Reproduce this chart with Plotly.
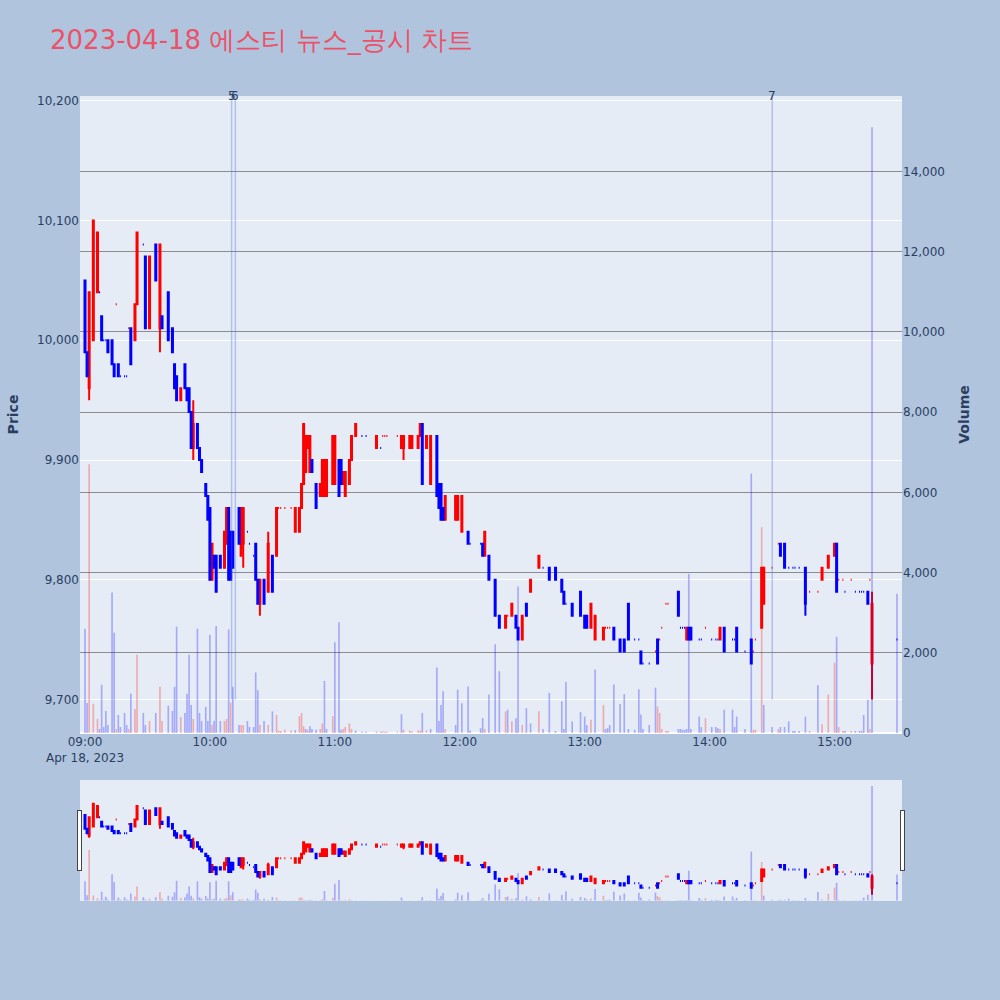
import pandas as pd
import plotly.graph_objects as go
from plotly.subplots import make_subplots

DATE = "2023-04-18"
TITLE = "2023-04-18 에스티 뉴스_공시 차트"

times = [
    "09:00", "09:01", "09:02", "09:04", "09:06", "09:07", "09:08", "09:09", "09:10", "09:11",
    "09:13", "09:14", "09:15", "09:16", "09:17", "09:19", "09:20", "09:21", "09:22", "09:24",
    "09:25", "09:28", "09:29", "09:31", "09:34", "09:36", "09:37", "09:40", "09:42", "09:43",
    "09:44", "09:46", "09:48", "09:49", "09:50", "09:51", "09:52", "09:54", "09:55", "09:56",
    "09:58", "09:59", "10:00", "10:01", "10:02", "10:03", "10:05", "10:07", "10:08", "10:09",
    "10:10", "10:11", "10:14", "10:15", "10:16", "10:18", "10:19", "10:21", "10:22", "10:23",
    "10:24", "10:26", "10:28", "10:30", "10:32", "10:33", "10:34", "10:36", "10:39", "10:41",
    "10:43", "10:44", "10:45", "10:46", "10:47", "10:48", "10:49", "10:51", "10:53", "10:54",
    "10:55", "10:56", "10:59", "11:00", "11:02", "11:03", "11:04", "11:05", "11:07", "11:08",
    "11:10", "11:13", "11:15", "11:20", "11:22", "11:23", "11:24", "11:25", "11:30", "11:32",
    "11:33", "11:36", "11:37", "11:40", "11:41", "11:42", "11:44", "11:46", "11:49", "11:50",
    "11:51", "11:52", "11:53", "11:58", "11:59", "12:01", "12:04", "12:05", "12:10", "12:11",
    "12:12", "12:14", "12:17", "12:19", "12:22", "12:23", "12:25", "12:27", "12:28", "12:30",
    "12:32", "12:34", "12:38", "12:40", "12:43", "12:46", "12:49", "12:50", "12:51", "12:54",
    "12:58", "13:00", "13:01", "13:03", "13:05", "13:09", "13:10", "13:11", "13:12", "13:14",
    "13:17", "13:19", "13:21", "13:24", "13:26", "13:27", "13:28", "13:31", "13:34", "13:35",
    "13:36", "13:37", "13:39", "13:40", "13:45", "13:46", "13:47", "13:48", "13:49", "13:50",
    "13:51", "13:55", "13:56", "13:58", "14:01", "14:03", "14:04", "14:05", "14:07", "14:11",
    "14:12", "14:13", "14:17", "14:20", "14:21", "14:22", "14:25", "14:26", "14:30", "14:33",
    "14:34", "14:36", "14:38", "14:40", "14:41", "14:43", "14:46", "14:48", "14:52", "14:54",
    "14:57", "15:00", "15:01", "15:02", "15:04", "15:05", "15:08", "15:10", "15:12", "15:13",
    "15:14", "15:16", "15:17", "15:18", "15:30",
]

opens = [
    10050, 9990, 9960, 10000, 10040, 10040, 10020, 10000, 10000, 10000,
    10000, 9980, 10030, 9980, 9970, 9970, 9970, 10010, 10010, 10000,
    10030, 10080, 10070, 10010, 10080, 10010, 10020, 10040, 10010, 9980,
    9970, 9950, 9980, 9960, 9960, 9940, 9910, 9930, 9910, 9900,
    9880, 9870, 9860, 9800, 9820, 9820, 9820, 9810, 9830, 9860,
    9840, 9840, 9860, 9820, 9830, 9840, 9830, 9820, 9830, 9800,
    9780, 9800, 9790, 9820, 9820, 9860, 9860, 9860, 9860, 9840,
    9840, 9860, 9880, 9890, 9910, 9890, 9900, 9880, 9870, 9870,
    9870, 9870, 9880, 9880, 9900, 9900, 9880, 9870, 9880, 9900,
    9920, 9920, 9920, 9910, 9910, 9920, 9920, 9920, 9920, 9910,
    9910, 9910, 9910, 9910, 9920, 9930, 9910, 9880, 9920, 9880,
    9880, 9860, 9850, 9850, 9850, 9840, 9840, 9830, 9830, 9830,
    9820, 9820, 9800, 9770, 9760, 9770, 9770, 9770, 9760, 9750,
    9780, 9790, 9810, 9810, 9810, 9810, 9800, 9790, 9780, 9780,
    9790, 9770, 9770, 9760, 9750, 9750, 9760, 9760, 9760, 9760,
    9750, 9750, 9780, 9750, 9750, 9740, 9730, 9730, 9740, 9750,
    9750, 9760, 9780, 9780, 9790, 9760, 9760, 9760, 9750, 9760,
    9760, 9750, 9750, 9760, 9750, 9750, 9750, 9750, 9760, 9750,
    9750, 9760, 9740, 9750, 9740, 9750, 9760, 9780, 9810, 9830,
    9830, 9830, 9810, 9810, 9810, 9810, 9810, 9790, 9790, 9800,
    9810, 9820, 9830, 9800, 9800, 9790, 9800, 9790, 9790, 9790,
    9790, 9790, 9800, 9730, 9750,
]

highs = [
    10050, 9990, 10040, 10100, 10090, 10040, 10020, 10000, 10000, 10000,
    10000, 9980, 10030, 9980, 9970, 9970, 9970, 10010, 10010, 10030,
    10090, 10080, 10070, 10070, 10080, 10080, 10020, 10040, 10010, 9980,
    9970, 9960, 9980, 9960, 9960, 9940, 9950, 9930, 9910, 9900,
    9880, 9870, 9860, 9830, 9820, 9820, 9820, 9840, 9860, 9860,
    9840, 9840, 9860, 9860, 9860, 9840, 9830, 9820, 9830, 9800,
    9800, 9800, 9840, 9820, 9860, 9860, 9860, 9860, 9860, 9860,
    9860, 9880, 9930, 9920, 9920, 9920, 9900, 9880, 9880, 9900,
    9900, 9900, 9920, 9920, 9900, 9900, 9890, 9890, 9900, 9920,
    9930, 9920, 9920, 9920, 9910, 9920, 9920, 9920, 9920, 9920,
    9920, 9920, 9920, 9920, 9930, 9930, 9920, 9920, 9920, 9880,
    9880, 9860, 9870, 9870, 9870, 9870, 9840, 9830, 9830, 9830,
    9840, 9820, 9800, 9770, 9770, 9770, 9780, 9770, 9760, 9770,
    9780, 9800, 9820, 9810, 9810, 9810, 9800, 9790, 9780, 9780,
    9790, 9770, 9770, 9780, 9770, 9760, 9760, 9760, 9760, 9760,
    9750, 9750, 9780, 9750, 9750, 9740, 9730, 9730, 9740, 9750,
    9750, 9760, 9780, 9780, 9790, 9760, 9760, 9760, 9760, 9760,
    9760, 9750, 9750, 9760, 9750, 9750, 9750, 9760, 9760, 9750,
    9750, 9760, 9740, 9750, 9740, 9750, 9810, 9810, 9810, 9830,
    9830, 9830, 9810, 9810, 9810, 9810, 9810, 9790, 9790, 9810,
    9820, 9830, 9830, 9800, 9800, 9790, 9800, 9790, 9790, 9790,
    9790, 9790, 9800, 9790, 9750,
]

lows = [
    9990, 9970, 9950, 10000, 10040, 10040, 10000, 10000, 10000, 9990,
    9980, 9970, 10030, 9970, 9970, 9970, 9970, 10010, 9980, 10000,
    10030, 10080, 10010, 10010, 10050, 9990, 10010, 10000, 9990, 9960,
    9950, 9950, 9960, 9950, 9940, 9910, 9900, 9910, 9900, 9890,
    9870, 9850, 9800, 9800, 9810, 9790, 9810, 9810, 9830, 9800,
    9800, 9810, 9830, 9820, 9810, 9840, 9830, 9820, 9800, 9780,
    9770, 9780, 9790, 9790, 9820, 9860, 9860, 9860, 9860, 9840,
    9840, 9860, 9880, 9890, 9910, 9890, 9890, 9860, 9870, 9870,
    9870, 9870, 9880, 9880, 9870, 9880, 9880, 9870, 9880, 9900,
    9920, 9920, 9920, 9910, 9910, 9920, 9920, 9920, 9920, 9910,
    9900, 9910, 9910, 9910, 9920, 9880, 9910, 9880, 9870, 9860,
    9850, 9850, 9850, 9850, 9850, 9840, 9830, 9830, 9830, 9820,
    9820, 9800, 9770, 9760, 9760, 9770, 9770, 9760, 9750, 9750,
    9770, 9790, 9810, 9810, 9800, 9800, 9790, 9780, 9780, 9770,
    9770, 9760, 9760, 9760, 9750, 9750, 9760, 9760, 9760, 9750,
    9740, 9740, 9750, 9750, 9750, 9730, 9730, 9730, 9740, 9730,
    9750, 9760, 9780, 9780, 9770, 9760, 9760, 9760, 9750, 9750,
    9750, 9750, 9750, 9760, 9750, 9750, 9750, 9750, 9740, 9750,
    9750, 9740, 9740, 9730, 9740, 9750, 9760, 9780, 9810, 9830,
    9820, 9810, 9810, 9810, 9810, 9810, 9770, 9790, 9790, 9800,
    9810, 9820, 9790, 9800, 9800, 9790, 9800, 9790, 9790, 9790,
    9790, 9780, 9800, 9700, 9750,
]

closes = [
    9990, 9970, 10040, 10100, 10090, 10040, 10000, 10000, 10000, 9990,
    9980, 9970, 10030, 9970, 9970, 9970, 9970, 10010, 9980, 10030,
    10090, 10080, 10010, 10070, 10050, 10080, 10010, 10000, 9990, 9960,
    9950, 9960, 9960, 9950, 9940, 9910, 9930, 9910, 9900, 9890,
    9870, 9850, 9800, 9830, 9810, 9790, 9810, 9840, 9860, 9800,
    9800, 9810, 9830, 9860, 9860, 9840, 9830, 9820, 9800, 9780,
    9800, 9780, 9830, 9790, 9860, 9860, 9860, 9860, 9860, 9860,
    9860, 9880, 9930, 9920, 9920, 9920, 9890, 9860, 9880, 9900,
    9900, 9900, 9920, 9920, 9870, 9880, 9890, 9890, 9900, 9920,
    9930, 9920, 9920, 9920, 9910, 9920, 9920, 9920, 9920, 9920,
    9920, 9920, 9920, 9920, 9930, 9880, 9920, 9920, 9870, 9860,
    9850, 9850, 9870, 9870, 9870, 9870, 9830, 9830, 9830, 9820,
    9840, 9800, 9770, 9760, 9770, 9770, 9780, 9760, 9750, 9770,
    9770, 9800, 9820, 9810, 9800, 9800, 9790, 9780, 9780, 9770,
    9770, 9760, 9760, 9780, 9770, 9760, 9760, 9760, 9760, 9750,
    9740, 9740, 9750, 9750, 9750, 9730, 9730, 9730, 9740, 9730,
    9750, 9760, 9780, 9780, 9770, 9760, 9760, 9760, 9760, 9750,
    9750, 9750, 9750, 9760, 9750, 9750, 9750, 9760, 9740, 9750,
    9750, 9740, 9740, 9730, 9740, 9750, 9810, 9810, 9810, 9830,
    9820, 9810, 9810, 9810, 9810, 9810, 9780, 9790, 9790, 9810,
    9820, 9830, 9790, 9800, 9800, 9790, 9800, 9790, 9790, 9790,
    9790, 9780, 9800, 9780, 9750,
]

# colour of each candle as drawn (u = red, d = blue), one row of 10 per line
direction_rows = [
    "dduuuddddd", "dduddddudu", "uddududddd", "dudddduddd", "ddduddduud",
    "ddduuddddd", "ududuuuuuu", "uuuuuudduu", "uuuudduuuu", "udduduuuuu",
    "uuuuuduudd", "dduuuudddd", "uddduuuddu", "duuddddddd", "ddduuuuuud",
    "ddddddddud", "uuuuddddud", "dddudddudd", "dddduuuuuu", "ddddddduuu",
    "uuduududdd", "dduud",
]

volumes = [
    2600, 750, 6700, 730, 350, 100, 1200, 150, 550, 200,
    3500, 2500, 100, 450, 150, 500, 200, 100, 980, 600,
    1950, 500, 200, 300, 500, 1150, 300, 680, 550, 1150,
    2650, 400, 500, 980, 1950, 700, 350, 2600, 500, 300,
    650, 300, 2450, 200, 300, 2670, 300, 300, 350, 2580,
    760, 1150, 200, 200, 200, 300, 150, 150, 1510, 1070,
    200, 300, 200, 540, 450, 60, 50, 80, 60, 70,
    420, 500, 170, 100, 80, 170, 100, 80, 100, 240,
    1300, 100, 420, 2260, 2760, 80, 100, 150, 240, 100,
    60, 30, 30, 40, 30, 40, 30, 30, 30, 470,
    80, 60, 40, 60, 60, 500, 60, 100, 1630, 300,
    700, 1040, 100, 200, 1080, 740, 1160, 60, 120, 370,
    100, 960, 2210, 1540, 540, 580, 290, 370, 3650, 200,
    620, 240, 540, 100, 1000, 50, 790, 100, 1270, 290,
    520, 410, 200, 330, 1580, 700, 100, 120, 200, 1210,
    720, 970, 100, 80, 1090, 460, 100, 200, 1130, 660,
    500, 100, 50, 50, 100, 100, 80, 80, 100, 3970,
    100, 410, 150, 370, 150, 150, 120, 100, 580, 580,
    150, 410, 100, 6470, 80, 80, 5130, 700, 150, 100,
    150, 150, 290, 50, 50, 50, 410, 50, 1190, 220,
    960, 1750, 2400, 150, 50, 50, 50, 50, 50, 50,
    450, 830, 100, 15100, 3470,
]

# colour of each volume bar as drawn (u = pink, d = lavender)
volume_dir_rows = [
    "dduuuddddd", "dduddddudu", "udduduuddd", "dudddduddd", "ddduddduud",
    "udduuddddd", "ududuuuuud", "uuududdduu", "dduddduuuu", "ddduduuuud",
    "uuuuududdd", "dduddddddd", "udddududdu", "dduddddddd", "dddudu" + "dddd",
    "dddddddddu", "uuuudddddd", "dddudddudd", "dddduuuddu", "dddddddudu",
    "uuduududdd", "ddudd",
]

PRICE_RANGE = [9672, 10204]
VOLUME_RANGE = [0, 15880]
X_START, X_END = "08:57:36", "15:32:24"

news_times = ["10:10:25", "10:12:13", "14:30:05"]
news_labels = ["5", "6", "7"]

RED, BLUE = "#FF0000", "#0000FF"
FONT = "DejaVu Sans, Verdana, sans-serif"

n = len(times)
directions = "".join(direction_rows)
volume_dirs = "".join(volume_dir_rows)
assert all(len(a) == n for a in (opens, highs, lows, closes, volumes, directions, volume_dirs))

x = pd.to_datetime([f"{DATE} {t}" for t in times])

fig = make_subplots(specs=[[{"secondary_y": True}]])

for letter, color in (("u", RED), ("d", BLUE)):
    idx = [i for i, d in enumerate(directions) if d == letter]
    fig.add_trace(
        go.Candlestick(
            x=x[idx],
            open=[opens[i] for i in idx],
            high=[highs[i] for i in idx],
            low=[lows[i] for i in idx],
            close=[closes[i] for i in idx],
            increasing=dict(line=dict(color=color, width=2), fillcolor=color),
            decreasing=dict(line=dict(color=color, width=2), fillcolor=color),
            showlegend=False,
            name="Price",
        ),
        secondary_y=False,
    )

fig.add_trace(
    go.Bar(
        x=x,
        y=volumes,
        marker=dict(
            color=["rgba(255,0,0,0.28)" if d == "u" else "rgba(0,0,255,0.28)" for d in volume_dirs],
            line=dict(width=0),
        ),
        showlegend=False,
        name="Volume",
    ),
    secondary_y=True,
)

day_low = min(lows)
for t, label in zip(news_times, news_labels):
    xt = pd.Timestamp(f"{DATE} {t}")
    fig.add_shape(
        type="line", x0=xt, x1=xt, y0=day_low, y1=PRICE_RANGE[1],
        xref="x", yref="y",
        line=dict(color="rgba(80,110,220,0.35)", width=1.5),
    )
    fig.add_annotation(
        x=xt, y=1, xref="x", yref="paper", text=label, showarrow=False,
        yanchor="middle", font=dict(size=12, color="#2a3f5f"),
    )

x0 = pd.Timestamp(f"{DATE} {X_START}")
x1 = pd.Timestamp(f"{DATE} {X_END}")

fig.update_layout(
    width=1000,
    height=1000,
    font=dict(family=FONT),
    paper_bgcolor="#B0C4DE",
    showlegend=False,
    margin=dict(l=80, r=98, t=96, b=100),
    title=dict(
        text=TITLE, x=0.05, xanchor="left", y=0.96, yanchor="middle",
        font=dict(size=26, color="#EB5268"),
    ),
    barmode="overlay",
)
fig.update_xaxes(
    domain=[0, 1],
    range=[x0, x1], showgrid=False,
    rangeslider=dict(visible=True, range=[x0, x1]),
)
fig.update_yaxes(
    title=dict(text="Price", font=dict(size=14, weight="bold")),
    range=PRICE_RANGE, tickformat=",", automargin=False, secondary_y=False,
)
fig.update_yaxes(
    title=dict(text="Volume", font=dict(size=14, weight="bold")),
    range=VOLUME_RANGE, tickformat=",", gridcolor="#8c8c8c", automargin=False,
    secondary_y=True,
)

fig.write_html(
    "out.html",
    config={"displayModeBar": False},
    post_script="document.body.style.margin='0px';document.body.style.overflow='hidden';",
)
